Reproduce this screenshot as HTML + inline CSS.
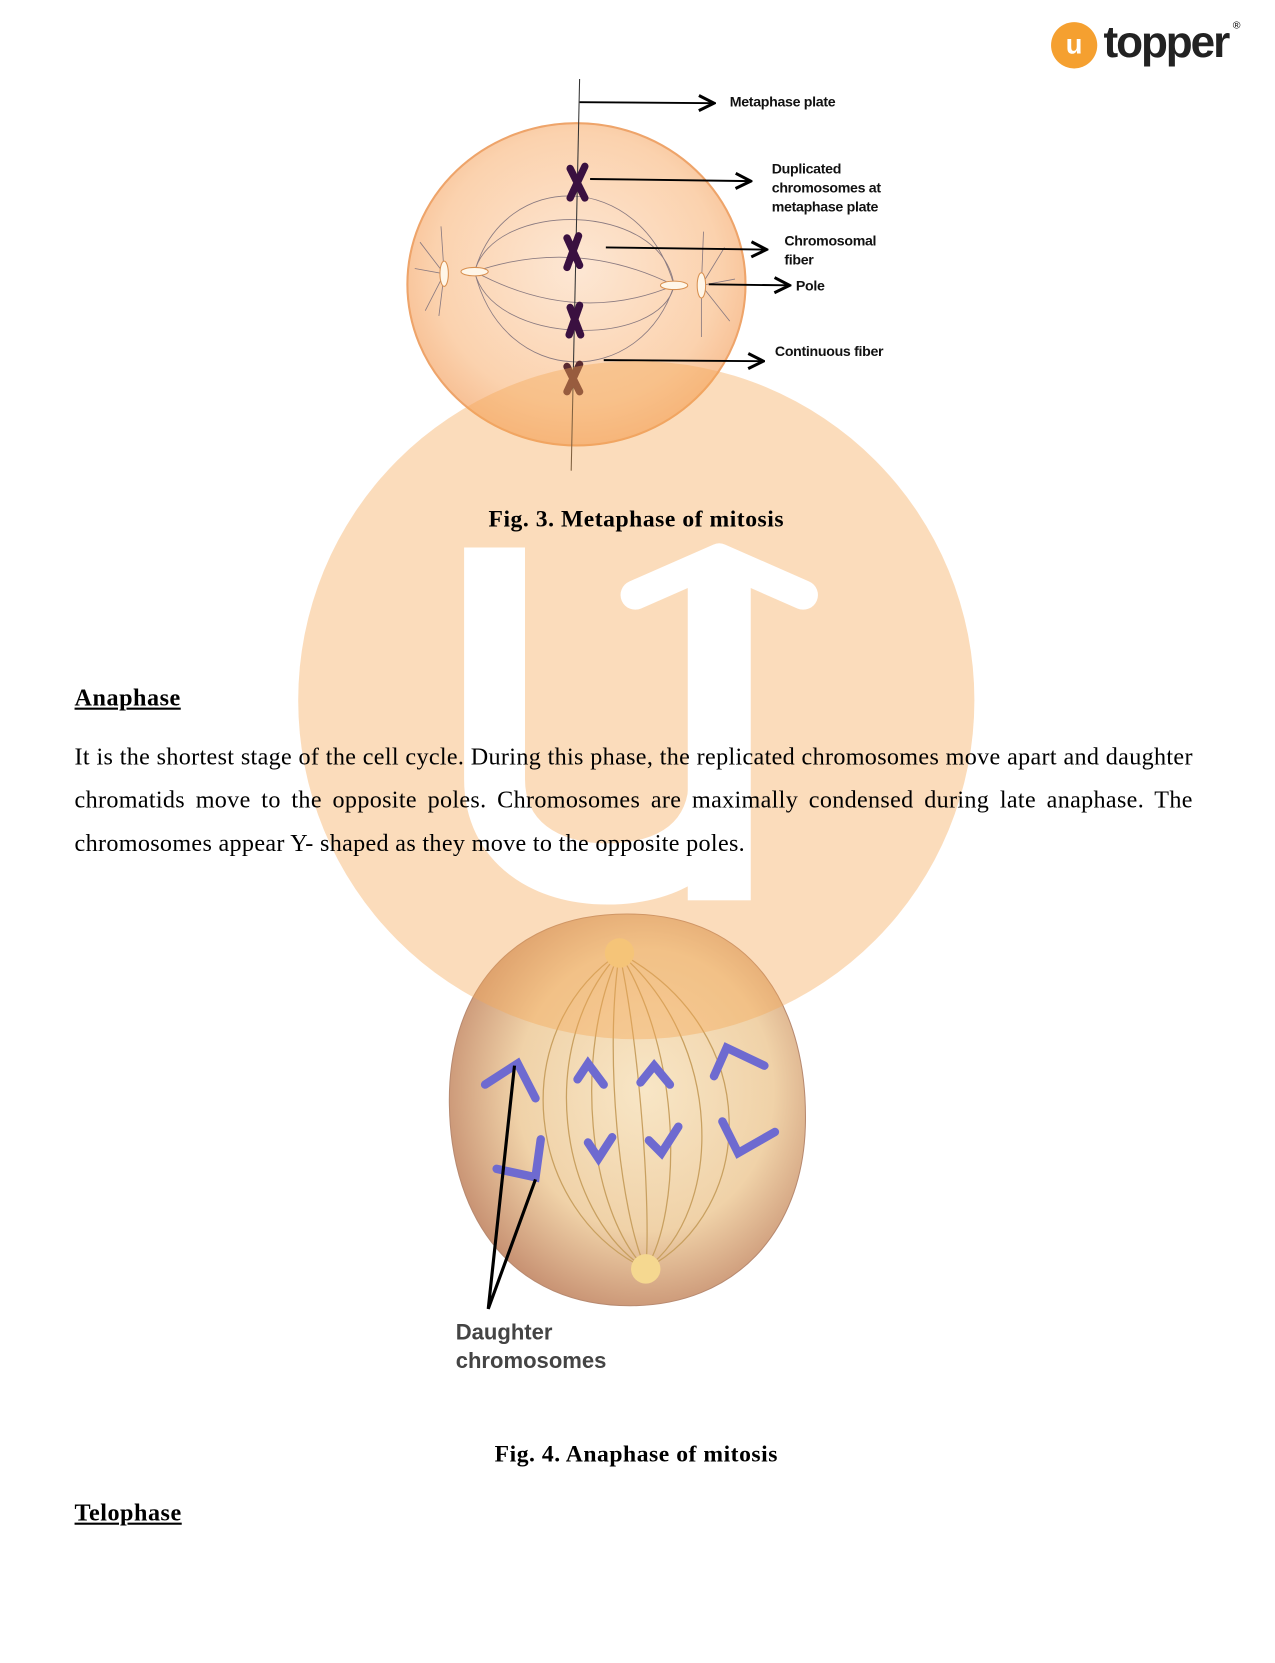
<!DOCTYPE html>
<html><head><meta charset="utf-8"><style>
html,body{margin:0;padding:0;background:#fff;}
body{width:1275px;height:1650px;overflow:hidden;position:relative;}
#c{position:absolute;left:0;top:0;width:1220px;height:1579px;transform:scale(1.05,1.053);transform-origin:0 0;}
.t{position:absolute;font-family:"Liberation Serif",serif;color:#000;}
.s{position:absolute;font-family:"Liberation Sans",sans-serif;font-weight:bold;font-size:13.5px;color:#111;line-height:18px;letter-spacing:-0.3px;}
.p{position:absolute;left:71px;width:1065px;font-family:"Liberation Serif",serif;font-size:23px;letter-spacing:0.3px;text-align:justify;text-align-last:justify;white-space:nowrap;}
</style></head><body><div id="c">
<svg width="1220" height="1579" style="position:absolute;left:0;top:0">
<defs>
<radialGradient id="g1" cx="0.5" cy="0.45" r="0.6"><stop offset="0" stop-color="#fde7d4"/><stop offset="0.7" stop-color="#fbd2ae"/><stop offset="1" stop-color="#f6b889"/></radialGradient>
<radialGradient id="g2" cx="0.55" cy="0.45" r="0.6"><stop offset="0" stop-color="#f8e6c6"/><stop offset="0.6" stop-color="#f0d2a8"/><stop offset="1" stop-color="#c48c6e"/></radialGradient>
<marker id="ar" markerWidth="10" markerHeight="10" refX="9" refY="5" orient="auto"><path d="M1,1 L9,5 L1,9" fill="none" stroke="#000" stroke-width="1.6"/></marker>
</defs>
<ellipse cx="549" cy="270" rx="161" ry="153" fill="url(#g1)" stroke="#eea46a" stroke-width="2"/>
<g fill="none" stroke="#8a7a80" stroke-width="0.8">
<path d="M452,258 C470,190 630,190 642,271"/><path d="M452,258 C480,160 610,160 642,271"/>
<path d="M452,258 C470,330 630,330 642,271"/><path d="M452,258 C480,370 610,370 642,271"/>
<path d="M452,258 Q549,225 642,271"/><path d="M452,258 Q549,310 642,271"/>
<path d="M423,260 L395,255 M423,260 L400,230 M423,260 L405,295 M423,260 L420,215 M423,260 L418,300 M668,271 L700,265 M668,271 L690,235 M668,271 L695,305 M668,271 L668,320 M668,271 L670,220"/>
</g>
<ellipse cx="423" cy="260" rx="4" ry="12" fill="#fff6e8" stroke="#d89050"/>
<ellipse cx="452" cy="258" rx="13" ry="4" fill="#fff6e8" stroke="#d89050"/>
<ellipse cx="642" cy="271" rx="13" ry="4" fill="#fff6e8" stroke="#d89050"/>
<ellipse cx="668" cy="271" rx="4" ry="12" fill="#fff6e8" stroke="#d89050"/>
<line x1="552" y1="75" x2="544" y2="447" stroke="#333" stroke-width="1"/>
<g stroke="#3a1040" stroke-width="7" stroke-linecap="round">
<path d="M543,160 L557,188 M557,158 L543,188"/><path d="M540,226 L552,252 M551,224 L540,254"/>
<path d="M543,292 L553,318 M552,290 L542,318"/><path d="M540,348 L552,372 M552,346 L540,372" stroke="#5a2a30"/>
</g>
<g stroke="#000" stroke-width="1.8" fill="none" marker-end="url(#ar)">
<line x1="552" y1="97" x2="680" y2="98"/><line x1="562" y1="170" x2="715" y2="172"/>
<line x1="577" y1="235" x2="730" y2="237"/><line x1="675" y1="270" x2="752" y2="271"/>
<line x1="575" y1="342" x2="727" y2="343"/>
</g>
<path d="M597,868 C720,868 770,960 767,1070 C764,1170 700,1240 600,1240 C490,1240 430,1160 428,1050 C426,950 480,868 597,868 Z" fill="url(#g2)" stroke="#b88a70" stroke-width="1"/>
<g fill="none" stroke="#c8a060" stroke-width="1.2">
<path d="M590,905 C480,980 500,1150 615,1205"/><path d="M590,905 C510,990 530,1150 615,1205"/>
<path d="M590,905 C545,1000 560,1150 615,1205"/><path d="M590,905 C575,1000 590,1150 615,1205"/>
<path d="M590,905 C610,1000 620,1150 615,1205"/><path d="M590,905 C650,1000 650,1150 615,1205"/>
<path d="M590,905 C690,990 690,1150 615,1205"/><path d="M590,905 C730,980 720,1150 615,1205"/>
</g>
<circle cx="590" cy="905" r="14" fill="#f5d890"/><circle cx="615" cy="1205" r="14" fill="#f5d890"/>
<g stroke="#6e6ad0" stroke-width="8" stroke-linecap="round" fill="none">
<path d="M462,1030 L493,1010 L510,1043"/><path d="M550,1025 L560,1010 L575,1030"/>
<path d="M610,1028 L623,1012 L638,1030"/><path d="M680,1022 L692,995 L728,1012"/>
<path d="M473,1110 L510,1118 L515,1082"/><path d="M560,1085 L570,1100 L583,1080"/>
<path d="M618,1083 L630,1095 L646,1070"/><path d="M688,1065 L703,1095 L738,1075"/>
</g>
<g stroke="#000" stroke-width="3" fill="none"><path d="M490,1012 L465,1243 L510,1120"/></g>
</svg>
<svg width="1220" height="1579" style="position:absolute;left:0;top:0;pointer-events:none">
<defs><mask id="m"><rect width="1220" height="1579" fill="#fff"/>
<path d="M471,520 V740 C471,800 520,830 578,830 C640,830 685,800 685,740 V560" stroke="#000" stroke-width="58" fill="none"/>
<polyline points="605,565 685,530 765,565" stroke="#000" stroke-width="28" stroke-linecap="round" stroke-linejoin="round" fill="none"/>
<rect x="655" y="545" width="60" height="310" fill="#000"/>
</mask></defs>
<circle cx="606" cy="665" r="322" fill="rgba(245,168,85,0.4)" mask="url(#m)"/>
</svg>
<div style="position:absolute;left:1001px;top:21px;width:44px;height:44px;border-radius:50%;background:#f5a030;color:#fff;font:bold 26px 'Liberation Sans',sans-serif;text-align:center;line-height:42px;">u</div>
<div style="position:absolute;left:1051px;top:16px;font:bold 42px 'Liberation Sans',sans-serif;color:#222;letter-spacing:-2px;">topper</div>
<div style="position:absolute;left:1174px;top:19px;font:10px 'Liberation Sans',sans-serif;">®</div>
<div class="s" style="left:695px;top:88px">Metaphase plate</div>
<div class="s" style="left:735px;top:152px">Duplicated<br>chromosomes at<br>metaphase plate</div>
<div class="s" style="left:747px;top:220px">Chromosomal<br>fiber</div>
<div class="s" style="left:758px;top:263px">Pole</div>
<div class="s" style="left:738px;top:325px">Continuous fiber</div>
<div class="t" style="left:0;width:1212px;text-align:center;top:480px;font-size:22.5px;letter-spacing:0.5px;font-weight:bold;">Fig. 3. Metaphase of mitosis</div>
<div class="t" style="left:71px;top:650px;font-size:23px;letter-spacing:0.5px;font-weight:bold;text-decoration:underline;">Anaphase</div>
<div class="p" style="top:706px">It is the shortest stage of the cell cycle. During this phase, the replicated chromosomes move apart and daughter</div>
<div class="p" style="top:747px">chromatids move to the opposite poles. Chromosomes are maximally condensed during late anaphase. The</div>
<div class="t" style="left:71px;top:788px;font-size:23px;letter-spacing:0.3px;">chromosomes appear Y- shaped as they move to the opposite poles.</div>
<div style="position:absolute;left:434px;top:1252px;font:bold 21px 'Liberation Sans',sans-serif;color:#444;line-height:27px;">Daughter<br>chromosomes</div>
<div class="t" style="left:0;width:1212px;text-align:center;top:1368px;font-size:22.5px;letter-spacing:0.5px;font-weight:bold;">Fig. 4. Anaphase of mitosis</div>
<div class="t" style="left:71px;top:1424px;font-size:23px;letter-spacing:0.5px;font-weight:bold;text-decoration:underline;">Telophase</div>
</div></body></html>
